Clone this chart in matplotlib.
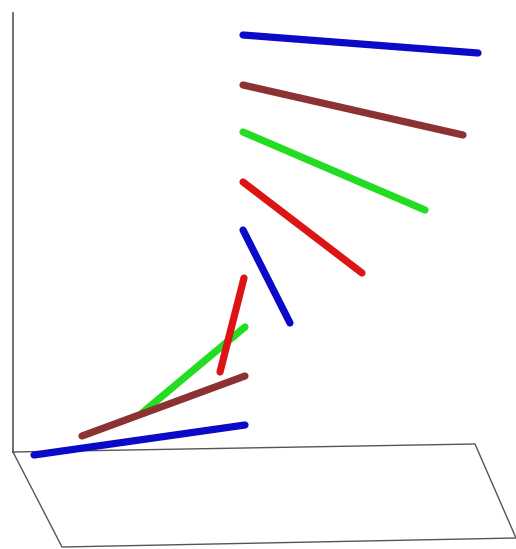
import matplotlib
matplotlib.use('Agg')
import matplotlib.pyplot as plt

seg_colors = ['#0a0ac8', '#8c3232', '#22dd22', '#dd1414', '#0a0ac8',
              '#dd1414', '#22dd22', '#8c3232', '#0a0ac8']
x_start = [243, 243, 243, 243, 243, 244, 245, 245, 245]
y_start = [35, 85, 132, 182, 230, 278, 327, 376, 425]
x_end = [478, 463, 425, 362, 290, 220, 142, 82, 34]
y_end = [53, 135, 210, 273, 323, 372, 413, 436, 455]
draw_order = [1, 1, 1, 1, 1, 3, 2, 2, 1]

# box edges: vertical axis and floor plane
axis_x = [13, 13]
axis_y = [13, 452]
floor_x = [13, 475, 516, 62, 13]
floor_y = [452, 444, 538, 547, 452]


def main():
    fig = plt.figure(figsize=(5.16, 5.49), dpi=100, facecolor='w')
    ax = fig.add_axes([0, 0, 1, 1])
    ax.set_xlim(0, 516)
    ax.set_ylim(549, 0)
    ax.axis('off')

    ax.plot(axis_x, axis_y, color='#555555', linewidth=1.2, zorder=0)
    ax.plot(floor_x, floor_y, color='#555555', linewidth=1.0, zorder=0)

    for i in range(len(x_start)):
        ax.plot([x_start[i], x_end[i]], [y_start[i], y_end[i]],
                color=seg_colors[i], linewidth=5.2,
                solid_capstyle='round', zorder=draw_order[i])

    fig.savefig('out.png', dpi=100, facecolor='w')


if __name__ == '__main__':
    main()
